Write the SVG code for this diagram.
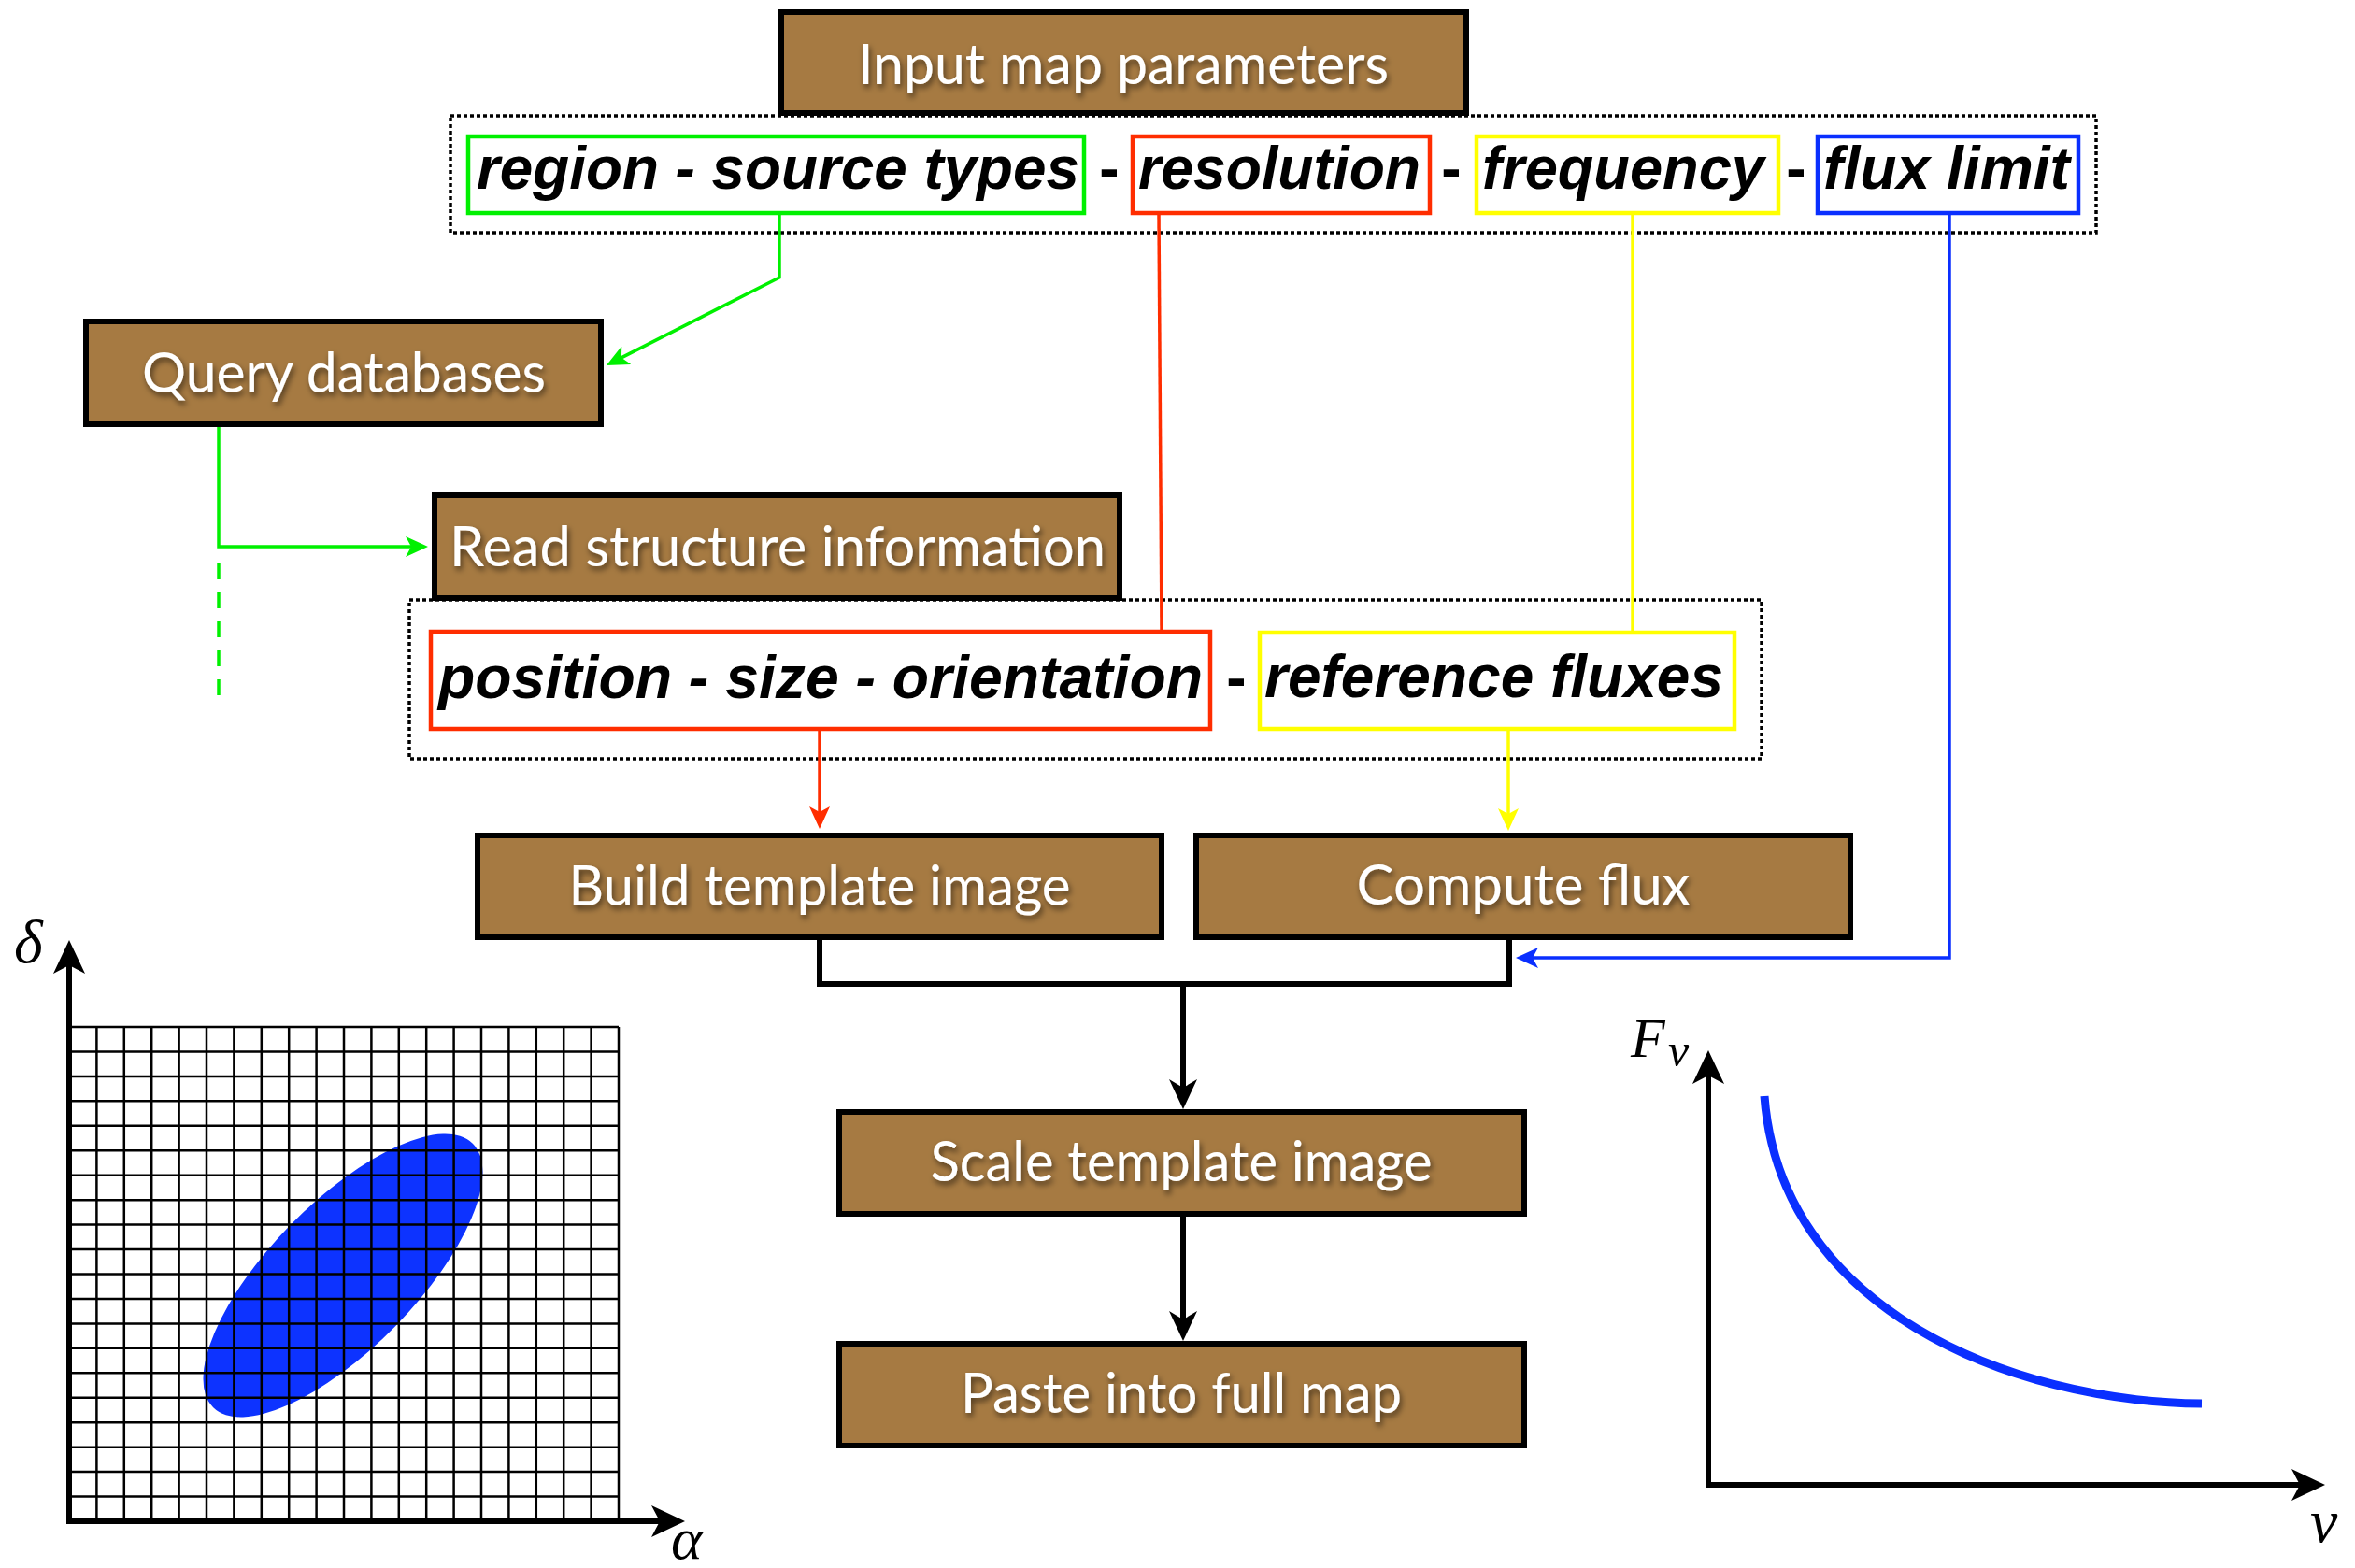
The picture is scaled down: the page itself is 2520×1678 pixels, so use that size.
<svg xmlns="http://www.w3.org/2000/svg" width="2520" height="1678" viewBox="0 0 2520 1678">
<style>
.node rect{fill:#a67a42;stroke:#000;stroke-width:6}
.node text{fill:#fff;font-family:Lato,"Open Sans",sans-serif;font-size:60px;text-anchor:middle;filter:url(#sh)}
.dot{fill:none;stroke:#000;stroke-width:3.5;stroke-dasharray:4 3}
.pbox{fill:#fff;stroke-width:4.5}
.pt{font-family:"Liberation Sans",Arial,sans-serif;font-weight:bold;font-style:italic;font-size:64px;fill:#000}
.sep{font-family:"Liberation Sans",Arial,sans-serif;font-weight:bold;font-size:64px;fill:#000;text-anchor:middle}
.math{font-family:"Liberation Serif","Times New Roman",serif;font-style:italic;fill:#000}
.grid{fill:none;stroke:#000;stroke-width:2.5}
.axis{fill:none;stroke:#000;stroke-width:6}
</style>
<defs>
<filter id="sh" x="-10%" y="-30%" width="120%" height="160%">
<feDropShadow dx="2" dy="4" stdDeviation="3" flood-color="#000" flood-opacity="0.55"/>
</filter>
<marker id="ak" markerUnits="userSpaceOnUse" markerWidth="32" markerHeight="30" refX="22" refY="15" orient="auto"><path d="M0,0 L32,15 L0,30 L9,15 z" fill="#000"/></marker>
<marker id="aa" markerUnits="userSpaceOnUse" markerWidth="36" markerHeight="34" refX="25" refY="17" orient="auto"><path d="M0,0 L36,17 L0,34 L9,17 z" fill="#000"/></marker>
<marker id="ag" markerUnits="userSpaceOnUse" markerWidth="24" markerHeight="22" refX="16" refY="11" orient="auto"><path d="M0,0 L24,11 L0,22 L6,11 z" fill="#00f000"/></marker>
<marker id="ar" markerUnits="userSpaceOnUse" markerWidth="24" markerHeight="22" refX="16" refY="11" orient="auto"><path d="M0,0 L24,11 L0,22 L6,11 z" fill="#ff2d00"/></marker>
<marker id="ay" markerUnits="userSpaceOnUse" markerWidth="24" markerHeight="22" refX="16" refY="11" orient="auto"><path d="M0,0 L24,11 L0,22 L6,11 z" fill="#ffff00"/></marker>
<marker id="ab" markerUnits="userSpaceOnUse" markerWidth="24" markerHeight="22" refX="16" refY="11" orient="auto"><path d="M0,0 L24,11 L0,22 L6,11 z" fill="#0a2fff"/></marker>
</defs>
<rect width="2520" height="1678" fill="#fff"/>

<!-- dotted grouping boxes -->
<rect class="dot" x="482" y="124" width="1761" height="125"/>
<rect class="dot" x="438" y="642" width="1447" height="170"/>

<!-- connectors -->
<g id="connectors" fill="none">
<polyline points="834,230 834,297 656,387.4" stroke="#00f000" stroke-width="3.5" marker-end="url(#ag)"/>
<polyline points="234,457 234,585 450,585" stroke="#00f000" stroke-width="3.5" marker-end="url(#ag)"/>
<line x1="234" y1="603" x2="234" y2="745" stroke="#00f000" stroke-width="3.5" stroke-dasharray="17 14"/>
<line x1="1240" y1="230" x2="1243" y2="674" stroke="#ff2d00" stroke-width="3.5"/>
<line x1="877" y1="782" x2="877" y2="879" stroke="#ff2d00" stroke-width="3.5" marker-end="url(#ar)"/>
<line x1="1747" y1="230" x2="1747" y2="675" stroke="#ffff00" stroke-width="3.5"/>
<line x1="1614" y1="782" x2="1614" y2="881" stroke="#ffff00" stroke-width="3.5" marker-end="url(#ay)"/>
<polyline points="2086,230 2086,1025 1630,1025" stroke="#0a2fff" stroke-width="3.5" marker-end="url(#ab)"/>
<polyline points="877,1004 877,1053 1615,1053 1615,1004" stroke="#000" stroke-width="6"/>
<line x1="1266" y1="1053" x2="1266" y2="1177" stroke="#000" stroke-width="6" marker-end="url(#ak)"/>
<line x1="1266" y1="1302" x2="1266" y2="1425" stroke="#000" stroke-width="6" marker-end="url(#ak)"/>
</g>

<!-- nodes -->
<g id="n-input" class="node"><rect x="836" y="13" width="733" height="108"/><text x="1202" y="90" textLength="568" lengthAdjust="spacingAndGlyphs">Input map parameters</text></g>
<g id="n-query" class="node"><rect x="92" y="344" width="551" height="110"/><text x="368" y="420" textLength="432" lengthAdjust="spacingAndGlyphs">Query databases</text></g>
<g id="n-read" class="node"><rect x="465" y="530" width="733" height="110"/><text x="832" y="606" textLength="702" lengthAdjust="spacingAndGlyphs">Read structure information</text></g>
<g id="n-build" class="node"><rect x="511" y="894" width="732" height="109"/><text x="877" y="969" textLength="537" lengthAdjust="spacingAndGlyphs">Build template image</text></g>
<g id="n-compute" class="node"><rect x="1280" y="894" width="700" height="109"/><text x="1630" y="968" textLength="357" lengthAdjust="spacingAndGlyphs">Compute flux</text></g>
<g id="n-scale" class="node"><rect x="898" y="1190" width="733" height="109"/><text x="1264" y="1264" textLength="537" lengthAdjust="spacingAndGlyphs">Scale template image</text></g>
<g id="n-paste" class="node"><rect x="898" y="1438" width="733" height="109"/><text x="1264" y="1512" textLength="472" lengthAdjust="spacingAndGlyphs">Paste into full map</text></g>

<!-- parameter boxes -->
<g id="p-region"><rect class="pbox" x="501" y="146" width="659" height="82" stroke="#00f000"/><text class="pt" x="510" y="202" textLength="645" lengthAdjust="spacingAndGlyphs">region - source types</text></g>
<text class="sep" x="1187" y="202">-</text>
<g id="p-resolution"><rect class="pbox" x="1212" y="146" width="318" height="82" stroke="#ff2d00"/><text class="pt" x="1218" y="202" textLength="302" lengthAdjust="spacingAndGlyphs">resolution</text></g>
<text class="sep" x="1553" y="202">-</text>
<g id="p-frequency"><rect class="pbox" x="1580" y="146" width="323" height="82" stroke="#ffff00"/><text class="pt" x="1586" y="202" textLength="302" lengthAdjust="spacingAndGlyphs">frequency</text></g>
<text class="sep" x="1922" y="202">-</text>
<g id="p-fluxlimit"><rect class="pbox" x="1945" y="146" width="279" height="82" stroke="#0a2fff"/><text class="pt" x="1951" y="202" textLength="264" lengthAdjust="spacingAndGlyphs">flux limit</text></g>

<g id="p-position"><rect class="pbox" x="461" y="676" width="834" height="104" stroke="#ff2d00"/><text class="pt" x="469" y="747" textLength="818" lengthAdjust="spacingAndGlyphs">position - size - orientation</text></g>
<text class="sep" x="1323" y="747">-</text>
<g id="p-refflux"><rect class="pbox" x="1348" y="677" width="508" height="103" stroke="#ffff00"/><text class="pt" x="1353" y="746" textLength="491" lengthAdjust="spacingAndGlyphs">reference fluxes</text></g>

<!-- left plot: template image -->
<g id="plot-template">
<ellipse cx="367" cy="1365" rx="198" ry="78" transform="rotate(-45.5 367 1365)" fill="#0d33ff"/>
<path class="grid" d="M77,1099H662M77,1125.45H662M77,1151.9H662M77,1178.35H662M77,1204.8H662M77,1231.25H662M77,1257.7H662M77,1284.15H662M77,1310.6H662M77,1337.05H662M77,1363.5H662M77,1389.95H662M77,1416.4H662M77,1442.85H662M77,1469.3H662M77,1495.75H662M77,1522.2H662M77,1548.65H662M77,1575.1H662M77,1601.55H662
M103.4,1099V1628M132.8,1099V1628M162.2,1099V1628M191.6,1099V1628M221,1099V1628M250.4,1099V1628M279.8,1099V1628M309.2,1099V1628M338.6,1099V1628M368,1099V1628M397.4,1099V1628M426.8,1099V1628M456.2,1099V1628M485.6,1099V1628M515,1099V1628M544.4,1099V1628M573.8,1099V1628M603.2,1099V1628M632.6,1099V1628M662,1099V1628"/>
<line class="axis" x1="74" y1="1631" x2="74" y2="1017" marker-end="url(#aa)"/>
<line class="axis" x1="71" y1="1628" x2="722" y2="1628" marker-end="url(#aa)"/>
<text class="math" x="15" y="1030" font-size="66">δ</text>
<text class="math" x="718" y="1668" font-size="64">α</text>
</g>

<!-- right plot: spectrum -->
<g id="plot-spectrum">
<path d="M1888,1173 C1905,1400 2150,1500 2356,1502" fill="none" stroke="#0a2fff" stroke-width="9"/>
<line class="axis" x1="1828" y1="1592" x2="1828" y2="1135" marker-end="url(#aa)"/>
<line class="axis" x1="1825" y1="1589" x2="2477" y2="1589" marker-end="url(#aa)"/>
<text class="math" x="1745" y="1131" font-size="60">F</text>
<text class="math" x="1785" y="1141" font-size="50">ν</text>
<text class="math" x="2472" y="1650" font-size="66">ν</text>
</g>
</svg>
